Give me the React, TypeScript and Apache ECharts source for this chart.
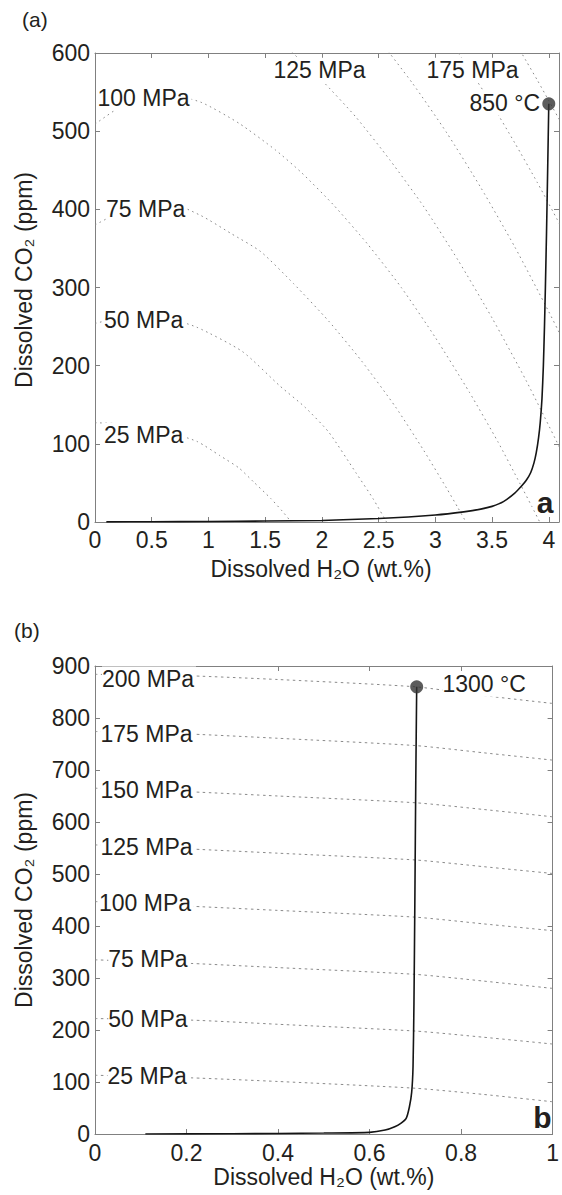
import React, { useEffect, useRef } from "react";
import * as echarts from "echarts";

// ---------- Panel (a): 850 °C ----------
const curveA: number[][] = [
  [0.1, 0.2], [0.5, 0.4], [1.0, 0.7], [1.5, 1.2], [2.0, 2.0], [2.5, 4.5], [3.0, 9], [3.25, 13],
  [3.4, 16.5], [3.5, 20], [3.6, 26], [3.7, 37], [3.76, 46], [3.8, 53], [3.84, 63], [3.87, 76],
  [3.89, 89], [3.91, 108], [3.925, 128], [3.94, 158], [3.952, 199], [3.962, 250], [3.97, 300],
  [3.98, 370], [3.99, 450], [4.0, 535],
];
const dotA: number[] = [4.0, 535];

const isoA25: number[][] = [[0, 127], [0.3, 125], [0.6, 117], [0.9, 103], [1.1, 85], [1.27, 69], [1.4, 51], [1.55, 30], [1.65, 14], [1.73, 0]];
const isoA50: number[][] = [[0, 254], [0.3, 263], [0.6, 262], [0.9, 249], [1.3, 218], [1.63, 174], [1.85, 147], [2.06, 115], [2.3, 63], [2.45, 30], [2.57, 0]];
const isoA75: number[][] = [[0, 380], [0.3, 402], [0.6, 411], [0.934, 392], [1.2, 369], [1.46, 346], [1.75, 305], [2.06, 257], [2.35, 206], [2.65, 147], [2.9, 91], [3.1, 43], [3.2, 18], [3.27, 0]];
const isoA100: number[][] = [[0, 509], [0.3, 538], [0.6, 548], [0.934, 537], [1.27, 510], [1.59, 476], [1.82, 447], [2.1, 406], [2.4, 356], [2.7, 300], [3.0, 236], [3.3, 166], [3.55, 103], [3.75, 48], [3.85, 20], [3.92, 0]];
const isoA125: number[][] = [[1.7, 606], [1.78, 595], [2.0, 565], [2.3, 518], [2.6, 463], [2.9, 403], [3.2, 335], [3.5, 261], [3.8, 181], [4.1, 94]];
const isoA150: number[][] = [[2.5, 618], [2.8, 561], [3.1, 498], [3.4, 428], [3.7, 352], [4.0, 269], [4.1, 240]];
const isoA175: number[][] = [[3.1, 622], [3.3, 579], [3.5, 534], [3.7, 485], [3.9, 434], [4.1, 380]];
const isoA200: number[][] = [[3.7, 615], [3.8, 590], [3.9, 565], [4.0, 539], [4.1, 513]];

// ---------- Panel (b): 1300 °C ----------
const curveB: number[][] = [
  [0.11, 0], [0.3, 0.5], [0.4, 1.0], [0.5, 1.8], [0.6, 3.2], [0.634, 7.7], [0.655, 14], [0.669, 21],
  [0.68, 30], [0.687, 52], [0.692, 80], [0.695, 130], [0.697, 250], [0.699, 450], [0.701, 680], [0.703, 860],
];
const dotB: number[] = [0.703, 860];

const isoB25: number[][] = [[0, 113], [0.21, 108], [0.4, 101], [0.7, 88], [0.85, 76], [1.0, 62]];
const isoB50: number[][] = [[0, 222], [0.21, 219], [0.4, 211], [0.7, 198], [0.85, 186], [1.0, 173]];
const isoB75: number[][] = [[0, 335], [0.21, 328], [0.4, 320], [0.7, 307], [0.85, 294], [1.0, 280]];
const isoB100: number[][] = [[0, 447], [0.21, 438], [0.4, 430], [0.7, 417], [0.85, 404], [1.0, 391]];
const isoB125: number[][] = [[0, 556], [0.21, 548], [0.4, 540], [0.7, 527], [0.85, 514], [1.0, 501]];
const isoB150: number[][] = [[0, 665], [0.21, 658], [0.4, 650], [0.7, 637], [0.85, 624], [1.0, 610]];
const isoB175: number[][] = [[0, 774], [0.21, 769], [0.4, 761], [0.7, 747], [0.85, 733], [1.0, 719]];
const isoB200: number[][] = [[0, 884], [0.21, 881], [0.4, 874], [0.7, 860], [0.85, 843], [1.0, 828]];

const isobarsA = [isoA25, isoA50, isoA75, isoA100, isoA125, isoA150, isoA175, isoA200];
const isobarsB = [isoB25, isoB50, isoB75, isoB100, isoB125, isoB150, isoB175, isoB200];

// Axis ranges / ticks
const xRangeA = [0, 4.09];
const xStepA = 0.5;
const yRangeA = [0, 600];
const yStepA = 100;
const xRangeB = [0, 1];
const xStepB = 0.2;
const yRangeB = [0, 900];
const yStepB = 100;

// Annotation texts
const labelsA = ["100 MPa", "75 MPa", "50 MPa", "25 MPa", "125 MPa", "175 MPa"];
const labelsB = ["200 MPa", "175 MPa", "150 MPa", "125 MPa", "100 MPa", "75 MPa", "50 MPa", "25 MPa"];

// layout of annotations (pixels)
const posA = [[97.5, 98], [106, 208.7], [104, 320.3], [104, 435.3], [273.5, 70.3], [426.5, 70.3]];
const posB = [[102, 679], [100.5, 733.7], [100.5, 789.7], [100.5, 847], [99, 902.7], [108.3, 959.3], [108.3, 1018.7], [107.5, 1076]];

const FONT = '"Liberation Sans", Arial, Helvetica, sans-serif';
const TXT = "#231f20";
const AX = "#808080";
const ISO = "#8a8a8a";

function stepFmt(step: number) {
  return (v: number) => {
    const k = v / step;
    return Math.abs(k - Math.round(k)) < 1e-6 ? String(+v.toFixed(2)) : "";
  };
}

function axis(extra: any) {
  return {
    type: "value",
    axisLine: { show: true, onZero: false, lineStyle: { color: AX, width: 1 } },
    axisTick: { show: true, inside: true, length: 5, lineStyle: { color: AX, width: 1 } },
    splitLine: { show: false },
    ...extra,
  };
}

const labelStyle = { color: TXT, fontSize: 23, fontFamily: FONT };

function text(t: string, x: number, y: number, extra: any = {}) {
  return {
    type: "text",
    x,
    y,
    z: 100,
    silent: true,
    style: {
      text: t,
      fill: TXT,
      fontSize: 23,
      fontFamily: FONT,
      align: "left",
      verticalAlign: "middle",
      backgroundColor: "#fff",
      padding: [1, 2, 1, 0],
      ...extra,
    },
  };
}

export default function App() {
  const ref = useRef<HTMLDivElement>(null);
  useEffect(() => {
    if (!ref.current) return;
    const chart = echarts.init(ref.current, null, { renderer: "svg" });

    const isoSeries = (data: number[][], xi: number, yi: number, dash: number[]) => ({
      type: "line",
      xAxisIndex: xi,
      yAxisIndex: yi,
      data,
      showSymbol: false,
      symbol: "none",
      smooth: 0.2,
      z: 2,
      lineStyle: { color: ISO, width: 1, type: dash },
      silent: true,
    });

    const curveSeries = (data: number[][], xi: number, yi: number) => ({
      type: "line",
      xAxisIndex: xi,
      yAxisIndex: yi,
      data,
      showSymbol: false,
      symbol: "none",
      smooth: 0.2,
      z: 5,
      lineStyle: { color: "#151515", width: 1.6 },
      silent: true,
    });

    const option: any = {
      animation: false,
      backgroundColor: "#ffffff",
      grid: [
        { left: 95, top: 53, width: 467, height: 469 },
        { left: 95, top: 666, width: 467, height: 468 },
      ],
      xAxis: [
        axis({
          gridIndex: 0, position: "bottom", min: xRangeA[0], max: xRangeA[1], interval: xStepA,
          axisLabel: { ...labelStyle, margin: 6, formatter: stepFmt(xStepA) },
          name: "Dissolved H₂O (wt.%)", nameLocation: "middle", nameGap: 35,
          nameTextStyle: { ...labelStyle, padding: [0, 12, 0, 0] },
        }),
        axis({
          gridIndex: 0, position: "top", min: xRangeA[0], max: xRangeA[1], interval: xStepA,
          axisLabel: { show: false },
        }),
        axis({
          gridIndex: 1, position: "bottom", min: xRangeB[0], max: xRangeB[1], interval: xStepB,
          axisLabel: { ...labelStyle, margin: 7, formatter: stepFmt(xStepB) },
          name: "Dissolved H₂O (wt.%)", nameLocation: "middle", nameGap: 31,
          nameTextStyle: { ...labelStyle },
        }),
        axis({
          gridIndex: 1, position: "top", min: xRangeB[0], max: xRangeB[1], interval: xStepB,
          axisLabel: { show: false },
        }),
      ],
      yAxis: [
        axis({
          gridIndex: 0, position: "left", min: yRangeA[0], max: yRangeA[1], interval: yStepA,
          axisLabel: { ...labelStyle, margin: 5 },
          name: "Dissolved CO₂ (ppm)", nameLocation: "middle", nameGap: 60,
          nameTextStyle: { ...labelStyle, padding: [0, 0, 0, 15] },
        }),
        axis({
          gridIndex: 0, position: "right", min: yRangeA[0], max: yRangeA[1], interval: yStepA,
          axisLabel: { show: false },
        }),
        axis({
          gridIndex: 1, position: "left", min: yRangeB[0], max: yRangeB[1], interval: yStepB,
          axisLabel: { ...labelStyle, margin: 5 },
          name: "Dissolved CO₂ (ppm)", nameLocation: "middle", nameGap: 60,
          nameTextStyle: { ...labelStyle },
        }),
        axis({
          gridIndex: 1, position: "right", min: yRangeB[0], max: yRangeB[1], interval: yStepB,
          axisLabel: { show: false },
        }),
      ],
      series: [
        ...isobarsA.map((d) => isoSeries(d, 0, 0, [1.6, 3.6])),
        ...isobarsB.map((d) => isoSeries(d, 2, 2, [2.5, 3.5])),
        curveSeries(curveA, 0, 0),
        curveSeries(curveB, 2, 2),
        {
          type: "scatter", xAxisIndex: 0, yAxisIndex: 0, data: [dotA], symbolSize: 13, z: 6,
          itemStyle: { color: "#333333" }, silent: true,
        },
        {
          type: "scatter", xAxisIndex: 2, yAxisIndex: 2, data: [dotB], symbolSize: 13, z: 6,
          itemStyle: { color: "#333333" }, silent: true,
        },
      ],
      graphic: [
        ...labelsA.map((t, i) => text(t, posA[i][0], posA[i][1])),
        ...labelsB.map((t, i) => text(t, posB[i][0], posB[i][1])),
        text("850 °C", 540, 102.7, { align: "right", padding: [1, 0, 1, 2] }),
        text("1300 °C", 442.5, 684.3),
        text("a", 545, 502, { align: "center", fontSize: 30, fontWeight: "bold", backgroundColor: "transparent", padding: 0 }),
        text("b", 542.5, 1117.6, { align: "center", fontSize: 30, fontWeight: "bold", backgroundColor: "transparent", padding: 0 }),
        text("(a)", 22, 19, { fontSize: 21, backgroundColor: "transparent", padding: 0 }),
        text("(b)", 14, 630, { fontSize: 21, backgroundColor: "transparent", padding: 0 }),
      ],
    };

    chart.setOption(option);
    return () => chart.dispose();
  }, []);

  return (
    <div
      ref={ref}
      style={{ position: "absolute", left: 0, top: 0, width: 562, height: 1195, background: "#fff" }}
    />
  );
}
